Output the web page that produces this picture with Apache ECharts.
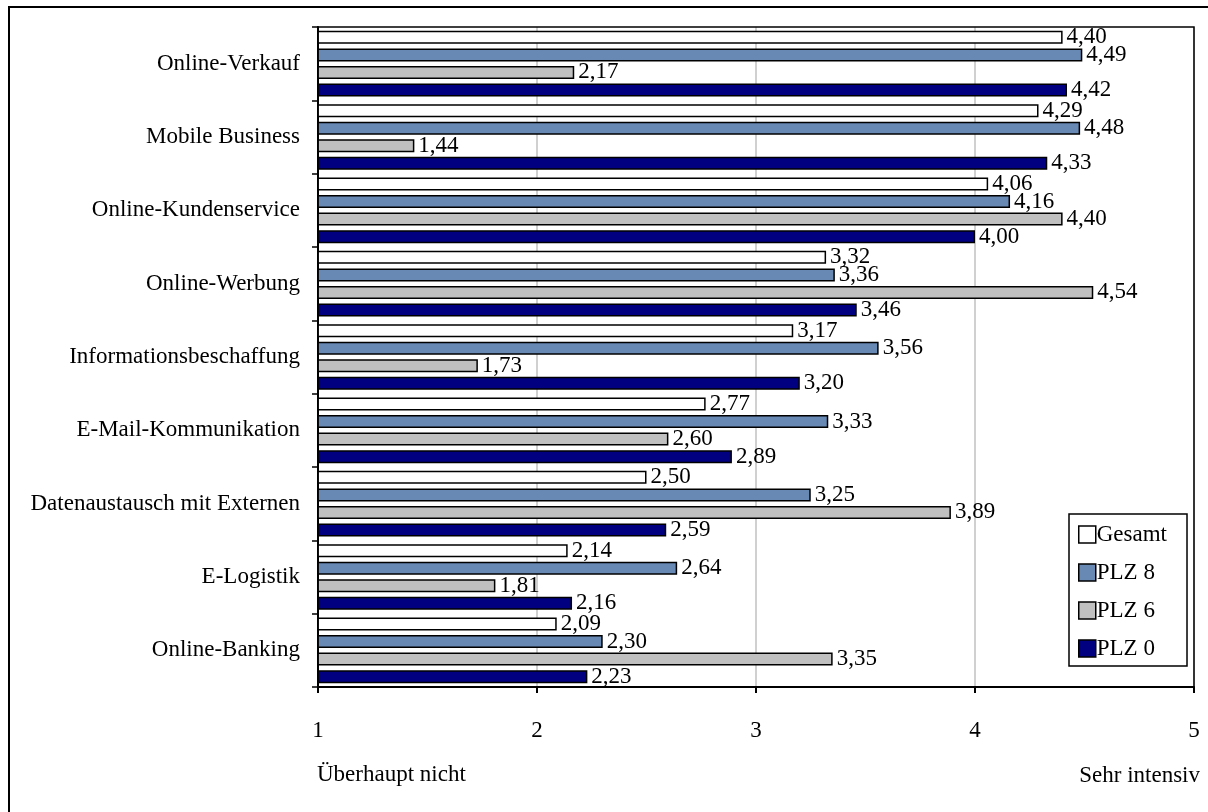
<!DOCTYPE html>
<html>
<head>
<meta charset="utf-8">
<script src="https://cdn.jsdelivr.net/npm/echarts@6/dist/echarts.min.js"></script>
<style>
  html, body { margin: 0; padding: 0; background: #fff; }
  #chart { width: 1208px; height: 812px; }
</style>
</head>
<body>
<div id="chart"></div>
<script>
const categories = [
  'Online-Verkauf',
  'Mobile Business',
  'Online-Kundenservice',
  'Online-Werbung',
  'Informationsbeschaffung',
  'E-Mail-Kommunikation',
  'Datenaustausch mit Externen',
  'E-Logistik',
  'Online-Banking'
];
const seriesNames = ['Gesamt', 'PLZ 8', 'PLZ 6', 'PLZ 0'];
const gesamt = [4.40, 4.29, 4.06, 3.32, 3.17, 2.77, 2.50, 2.14, 2.09];
const plz8   = [4.49, 4.48, 4.16, 3.36, 3.56, 3.33, 3.25, 2.64, 2.30];
const plz6   = [2.17, 1.44, 4.40, 4.54, 1.73, 2.60, 3.89, 1.81, 3.35];
const plz0   = [4.42, 4.33, 4.00, 3.46, 3.20, 2.89, 2.59, 2.16, 2.23];
const xTicks = [1, 2, 3, 4, 5];
const leftLabel = 'Überhaupt nicht';
const rightLabel = 'Sehr intensiv';

const colors = ['#ffffff', '#6789b4', '#c0c0c0', '#000080'];
const FONT = 'Liberation Serif';
const FS = 23;

const grid = { left: 318, top: 27, right: 14, bottom: 125 };
const W = 1208, H = 812;

const values = [gesamt, plz8, plz6, plz0];

const series = seriesNames.map((name, i) => ({
  name: name,
  type: 'bar',
  data: values[i],
  barWidth: 13,
  barGap: '35%',
  itemStyle: { color: colors[i], borderColor: '#000', borderWidth: 1.5 },
  label: {
    show: true,
    position: 'right',
    distance: 4,
    color: '#000',
    fontFamily: FONT,
    fontSize: FS,
    formatter: p => p.value.toFixed(2).replace('.', ',')
  }
}));

const chart = echarts.init(document.getElementById('chart'));
chart.setOption({
  animation: false,
  backgroundColor: '#fff',
  grid: grid,
  legend: {
    orient: 'vertical',
    left: 1069,
    top: 514,
    data: seriesNames,
    backgroundColor: '#fff',
    borderColor: '#000',
    borderWidth: 1.5,
    padding: [9, 20, 6, 9],
    itemGap: 15,
    itemWidth: 17,
    itemHeight: 17,
    icon: 'rect',
    itemStyle: { borderColor: '#000', borderWidth: 1.5 },
    textStyle: { fontFamily: FONT, fontSize: FS, color: '#000', padding: [0, 0, 0, -4] }
  },
  xAxis: {
    type: 'value',
    min: xTicks[0],
    max: xTicks[xTicks.length - 1],
    interval: 1,
    axisLine: { show: true, lineStyle: { color: '#000', width: 2 } },
    axisTick: { show: true, length: 6, lineStyle: { color: '#000', width: 2 } },
    axisLabel: { margin: 32, fontFamily: FONT, fontSize: FS, color: '#000' },
    splitLine: { show: true, lineStyle: { color: '#c0c0c0', width: 1.5 } }
  },
  yAxis: {
    type: 'category',
    inverse: true,
    data: categories,
    axisLine: { show: true, lineStyle: { color: '#000', width: 2 } },
    axisTick: { show: true, length: 6, lineStyle: { color: '#000', width: 1.5 } },
    axisLabel: { margin: 18, fontFamily: FONT, fontSize: FS, color: '#000' }
  },
  series: series,
  graphic: [
    {
      type: 'rect',
      z: 100,
      silent: true,
      shape: { x: grid.left, y: grid.top, width: W - grid.left - grid.right, height: H - grid.top - grid.bottom },
      style: { fill: null, stroke: '#000', lineWidth: 1.5 }
    },
    {
      type: 'rect',
      z: 100,
      silent: true,
      shape: { x: 9, y: 7, width: 1400, height: 1000 },
      style: { fill: null, stroke: '#000', lineWidth: 2 }
    },
    {
      type: 'text',
      left: 317,
      top: 763,
      style: { text: leftLabel, fontFamily: FONT, fontSize: FS, fill: '#000' }
    },
    {
      type: 'text',
      right: 8,
      top: 764,
      style: { text: rightLabel, fontFamily: FONT, fontSize: FS, fill: '#000' }
    }
  ]
});
</script>
</body>
</html>
